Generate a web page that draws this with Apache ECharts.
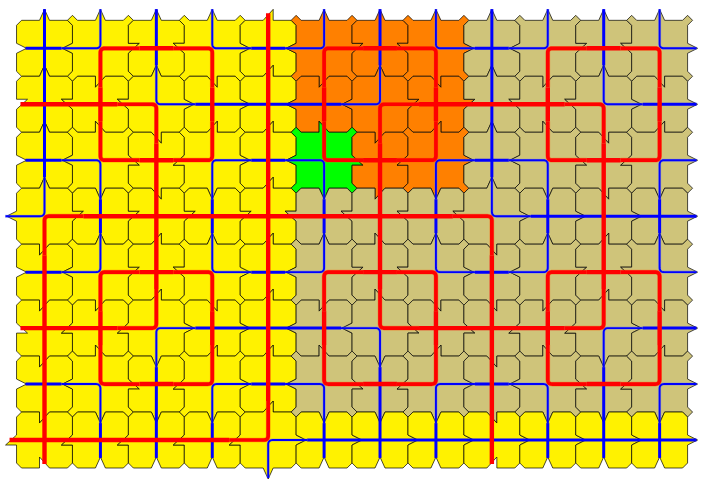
<!DOCTYPE html>
<html><head><meta charset="utf-8">
<style>html,body{margin:0;padding:0;background:#fff}#c{width:703px;height:487px}</style>
<script src="https://cdn.jsdelivr.net/npm/echarts@6/dist/echarts.min.js"></script>
</head><body><div id="c"></div>
<script>
// tile colour per row / column
const fillRows = ["YYYYYOOOKKKK","YYYYYOOOKKKK","YYYYYGOOKKKK","YYYYYKKKKKKK","YYYYYKKKKKKK","YYYYYKKKKKKK","YYYYYKKKKKKK","YYYYYYYYYYYY"];
const palette = {Y:"#FFF200", O:"#FF8000", G:"#00FF00", K:"#CFC47A"};
// arrow on each horizontal tile border (A up, V down; red barbs: a/b up, c/d down; a,c flat left; b,d flat right)
const hEdges = ["AAAAbAAAAAAA","AcAdbcAdAcAd","AadbbacbAadb","AVdVbVcVAVdV","cAbAbAaAdAbA","ccbdbcaddcbd","caVbbaVbdaVb","cVVVbVVVdVVV","aAAAVAAAbAAA"];
// arrow on each vertical tile border (< left, > right; red barbs: q/r left, s/t right; q,s flat top; r,t flat bottom)
const vEdges = ["><sq><sq><sq>","sqq>><<ssqq>>","><tr><tr><tr>","<ssssqqqq>>>>","><sq><sq><sq>","trr>><<ttrr>>","><tr><tr><tr>","rrrrr>>>>>>>>"];
// lines, in tile columns / rows
const T = -0.7, B = 7.32, L = -0.34, R = 11.66;
const blueLines = [
 [[0,T],[0,3],[-0.7,3]],[[L,0],[1,0],[1,T]],[[L,2],[1,2],[1,4],[L,4]],[[L,6],[1,6],[1,B]],
 [[2,T],[2,1],[6,1],[6,T]],[[2,B],[2,5],[6,5],[6,B]],[[3,T],[3,0],[5,0],[5,T]],[[3,2],[5,2],[5,4],[3,4],[3,2]],
 [[3,B],[3,6],[5,6],[5,B]],[[7,T],[7,0],[9,0],[9,T]],[[7,2],[9,2],[9,4],[7,4],[7,2]],[[7,B],[7,6],[9,6],[9,B]],
 [[8,T],[8,3],[R,3]],[[10,T],[10,1],[R,1]],[[10,B],[10,5],[R,5]],[[11,T],[11,0],[R,0]],[[R,2],[11,2],[11,4],[R,4]],[[R,6],[11,6],[11,B]],[[4,7.68],[4,7],[R,7]]
];
const redLines = [
 [[1,0],[3,0],[3,2],[1,2],[1,0]],[[1,4],[3,4],[3,6],[1,6],[1,4]],[[5,0],[7,0],[7,2],[5,2],[5,0]],[[5,4],[7,4],[7,6],[5,6],[5,4]],
 [[9,0],[11,0],[11,2],[9,2],[9,0]],[[9,4],[11,4],[11,6],[9,6],[9,4]],[[6,1],[10,1],[10,5],[6,5],[6,1]],
 [[-0.43,1],[2,1],[2,5],[-0.43,5]],[[4,-0.625],[4,7],[-0.625,7]],[[0,7.43],[0,3],[8,3],[8,7.43]]
];
const PXX = 55.92, PXY = 55.96, OX = 44.5, OY = 48.3;
const s = 5/56, dV = 11/56, dH = 10/56, dR = 11/56;
function hFeature(ch, cx, y){
  const apex = {A:[cx,y-dV],V:[cx,y+dV],a:[cx-s,y-dR],b:[cx+s,y-dR],c:[cx-s,y+dR],d:[cx+s,y+dR]}[ch];
  return [[cx-s,y],apex,[cx+s,y]];
}
function vFeature(ch, x, cy){
  const apex = {'<':[x-dH,cy],'>':[x+dH,cy],q:[x-dR,cy-s],r:[x-dR,cy+s],s:[x+dR,cy-s],t:[x+dR,cy+s]}[ch];
  return [[x,cy-s],apex,[x,cy+s]];
}
function tileOutline(c, r){
  const x0=c-.5, x1=c+.5, y0=r-.5, y1=r+.5, cross = c%2===1 && r%2===0;
  let p = [];
  p.push(...(cross ? [[x0,y0+s],[x0-s,y0],[x0,y0-s],[x0+s,y0]] : [[x0,y0+s],[x0+s,y0]]));
  p.push(...hFeature(hEdges[r][c], c, y0));
  p.push(...(cross ? [[x1-s,y0],[x1,y0-s],[x1+s,y0],[x1,y0+s]] : [[x1-s,y0],[x1,y0+s]]));
  p.push(...vFeature(vEdges[r][c+1], x1, r));
  p.push(...(cross ? [[x1,y1-s],[x1+s,y1],[x1,y1+s],[x1-s,y1]] : [[x1,y1-s],[x1-s,y1]]));
  p.push(...hFeature(hEdges[r+1][c], c, y1).reverse());
  p.push(...(cross ? [[x0+s,y1],[x0,y1+s],[x0-s,y1],[x0,y1-s]] : [[x0+s,y1],[x0,y1-s]]));
  p.push(...vFeature(vEdges[r][c], x0, r).reverse());
  return p;
}
const tileData = [];
fillRows.forEach((row, r) => [...row].forEach((k, c) => tileData.push([c, r, k])));
function unit(a, b){ const dx=b[0]-a[0], dy=b[1]-a[1], l=Math.hypot(dx,dy); return [dx/l, dy/l]; }
function along(v, u, d){ return [v[0]+u[0]*d, v[1]+u[1]*d]; }
function lineItem(lines, style){
  return function(params, api){
    const raw = lines[params.dataIndex];
    const pts = raw.map(p => api.coord(p));
    const closed = raw[0][0]===raw[raw.length-1][0] && raw[0][1]===raw[raw.length-1][1];
    const n = closed ? pts.length-1 : pts.length;
    const reach = 39, rad = 4.5;
    const isCorner = i => closed || (i>0 && i<n-1);
    const bent = [], straight = [];
    for (let i=0;i<n;i++){
      if (isCorner(i)){
        const v=pts[i], a=pts[(i-1+n)%n], b=pts[(i+1)%n];
        const ua=unit(v,a), ub=unit(v,b);
        const ra=Math.min(reach,Math.hypot(a[0]-v[0],a[1]-v[1]));
        const rb=Math.min(reach,Math.hypot(b[0]-v[0],b[1]-v[1]));
        const piece=[along(v,ua,ra)];
        const p1=along(v,ua,rad), p2=along(v,ub,rad);
        for (let k=0;k<=8;k++){
          const t=k/8, m=1-t;
          piece.push([m*m*p1[0]+2*m*t*v[0]+t*t*p2[0], m*m*p1[1]+2*m*t*v[1]+t*t*p2[1]]);
        }
        piece.push(along(v,ub,rb));
        bent.push(piece);
      }
    }
    const segCount = closed ? n : n-1;
    for (let i=0;i<segCount;i++){
      const a=pts[i], b=pts[(i+1)%n], u=unit(a,b), l=Math.hypot(b[0]-a[0],b[1]-a[1]);
      const sa=isCorner(i)?reach:0, sb=isCorner((i+1)%n)?reach:0;
      if (l-sa-sb>0) straight.push([along(a,u,sa),along(b,u,-sb)]);
    }
    const children=[];
    bent.forEach(points=>children.push({type:'polyline',shape:{points},style:{fill:null,stroke:style.rim,lineWidth:style.rimWidth,lineJoin:'round'}}));
    straight.forEach(points=>children.push({type:'polyline',shape:{points},style:{fill:null,stroke:style.color,lineWidth:style.thick}}));
    bent.forEach(points=>children.push({type:'polyline',shape:{points},style:{fill:null,stroke:style.color,lineWidth:style.thin,lineJoin:'round'}}));
    return {type:'group',children};
  };
}
const chart = echarts.init(document.getElementById('c'), null, {renderer:'canvas'});
chart.setOption({
  animation:false,
  backgroundColor:'#fff',
  grid:{left:0,top:0,width:703,height:487},
  xAxis:{type:'value',show:false,min:-OX/PXX,max:(703-OX)/PXX,scale:true},
  yAxis:{type:'value',show:false,inverse:true,min:-OY/PXY,max:(487-OY)/PXY,scale:true},
  series:[
    {type:'custom',z:1,silent:true,data:tileData,encode:{x:0,y:1},
     renderItem(params, api){
       const d=tileData[params.dataIndex];
       const points=tileOutline(d[0],d[1]).map(p=>api.coord(p));
       return {type:'polygon',shape:{points},style:{fill:palette[d[2]],stroke:'#000',lineWidth:0.7}};
     }},
    {type:'custom',z:2,silent:true,data:blueLines.map((_,i)=>[i]),
     renderItem:lineItem(blueLines,{color:'#0000FF',thick:3,thin:1.9,rim:'rgba(90,120,255,0.4)',rimWidth:3.1})},
    {type:'custom',z:3,silent:true,data:redLines.map((_,i)=>[i]),
     renderItem:lineItem(redLines,{color:'#FF0000',thick:4.4,thin:3.7,rim:'rgba(255,90,0,0.5)',rimWidth:4.7})}
  ]
});
</script></body></html>
